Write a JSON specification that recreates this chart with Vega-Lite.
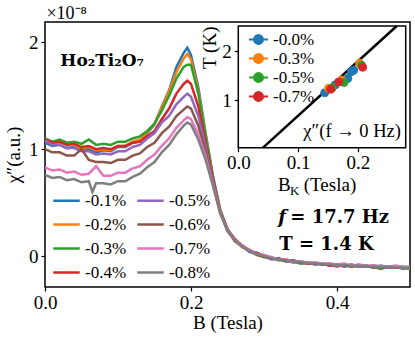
{
"$schema":"https://vega.github.io/schema/vega-lite/v6.json",
"width":365,"height":265,
"autosize":{"type":"none"},
"padding":{"left":45,"top":22,"right":5,"bottom":56},
"config":{
 "view":{"stroke":"black","strokeWidth":1.5},
 "font":"Liberation Serif",
 "axis":{"grid":false,"domain":false,"tickColor":"black","labelColor":"black","titleColor":"black","labelFont":"Liberation Serif","titleFont":"Liberation Serif","labelFontSize":19,"titleFontSize":19,"titleFontWeight":"normal","tickSize":4,"tickWidth":1.2,"labelFlush":false,"labelOverlap":false},
 "legend":{"labelFont":"Liberation Serif","labelColor":"black"}
},
"datasets":{
"main":[
{"s":"-0.1%","b":0,"v":1.06},{"s":"-0.1%","b":0.01,"v":1.03},{"s":"-0.1%","b":0.02,"v":1.04},{"s":"-0.1%","b":0.03,"v":1.01},{"s":"-0.1%","b":0.04,"v":1.02},{"s":"-0.1%","b":0.05,"v":0.99},{"s":"-0.1%","b":0.06,"v":1.0},{"s":"-0.1%","b":0.07,"v":0.97},{"s":"-0.1%","b":0.08,"v":0.99},{"s":"-0.1%","b":0.09,"v":0.98},{"s":"-0.1%","b":0.1,"v":1.02},{"s":"-0.1%","b":0.11,"v":1.02},{"s":"-0.1%","b":0.12,"v":1.06},{"s":"-0.1%","b":0.13,"v":1.07},{"s":"-0.1%","b":0.14,"v":1.15},{"s":"-0.1%","b":0.15,"v":1.23},{"s":"-0.1%","b":0.16,"v":1.4},{"s":"-0.1%","b":0.17,"v":1.55},{"s":"-0.1%","b":0.18,"v":1.77},{"s":"-0.1%","b":0.19,"v":1.9},{"s":"-0.1%","b":0.195,"v":1.95},{"s":"-0.1%","b":0.2,"v":1.88},{"s":"-0.1%","b":0.21,"v":1.58},{"s":"-0.1%","b":0.22,"v":1.15},{"s":"-0.1%","b":0.23,"v":0.75},{"s":"-0.1%","b":0.24,"v":0.43},
{"s":"-0.1%","b":0.25,"v":0.25},{"s":"-0.1%","b":0.26,"v":0.14},{"s":"-0.1%","b":0.27,"v":0.1},{"s":"-0.1%","b":0.28,"v":0.04},{"s":"-0.1%","b":0.29,"v":0.03},{"s":"-0.1%","b":0.3,"v":0.0},{"s":"-0.1%","b":0.31,"v":-0.03},{"s":"-0.1%","b":0.32,"v":-0.02},{"s":"-0.1%","b":0.33,"v":-0.05},{"s":"-0.1%","b":0.34,"v":-0.04},{"s":"-0.1%","b":0.35,"v":-0.07},{"s":"-0.1%","b":0.36,"v":-0.06},{"s":"-0.1%","b":0.37,"v":-0.08},{"s":"-0.1%","b":0.38,"v":-0.07},{"s":"-0.1%","b":0.39,"v":-0.09},{"s":"-0.1%","b":0.4,"v":-0.08},{"s":"-0.1%","b":0.41,"v":-0.1},{"s":"-0.1%","b":0.42,"v":-0.08},{"s":"-0.1%","b":0.43,"v":-0.1},{"s":"-0.1%","b":0.44,"v":-0.09},{"s":"-0.1%","b":0.45,"v":-0.11},{"s":"-0.1%","b":0.46,"v":-0.09},{"s":"-0.1%","b":0.47,"v":-0.11},{"s":"-0.1%","b":0.48,"v":-0.1},{"s":"-0.1%","b":0.49,"v":-0.12},{"s":"-0.1%","b":0.5,"v":-0.11},
{"s":"-0.2%","b":0,"v":1.08},{"s":"-0.2%","b":0.01,"v":1.06},{"s":"-0.2%","b":0.02,"v":1.06},{"s":"-0.2%","b":0.03,"v":1.05},{"s":"-0.2%","b":0.04,"v":1.04},{"s":"-0.2%","b":0.05,"v":1.01},{"s":"-0.2%","b":0.06,"v":1.02},{"s":"-0.2%","b":0.07,"v":0.99},{"s":"-0.2%","b":0.08,"v":1.0},{"s":"-0.2%","b":0.09,"v":0.99},{"s":"-0.2%","b":0.1,"v":1.03},{"s":"-0.2%","b":0.11,"v":1.03},{"s":"-0.2%","b":0.12,"v":1.07},{"s":"-0.2%","b":0.13,"v":1.09},{"s":"-0.2%","b":0.14,"v":1.16},{"s":"-0.2%","b":0.15,"v":1.24},{"s":"-0.2%","b":0.16,"v":1.39},{"s":"-0.2%","b":0.17,"v":1.54},{"s":"-0.2%","b":0.18,"v":1.72},{"s":"-0.2%","b":0.19,"v":1.85},{"s":"-0.2%","b":0.195,"v":1.89},{"s":"-0.2%","b":0.2,"v":1.84},{"s":"-0.2%","b":0.21,"v":1.55},{"s":"-0.2%","b":0.22,"v":1.13},{"s":"-0.2%","b":0.23,"v":0.74},{"s":"-0.2%","b":0.24,"v":0.43},
{"s":"-0.2%","b":0.25,"v":0.23},{"s":"-0.2%","b":0.26,"v":0.16},{"s":"-0.2%","b":0.27,"v":0.08},{"s":"-0.2%","b":0.28,"v":0.06},{"s":"-0.2%","b":0.29,"v":0.01},{"s":"-0.2%","b":0.3,"v":0.01},{"s":"-0.2%","b":0.31,"v":-0.02},{"s":"-0.2%","b":0.32,"v":-0.04},{"s":"-0.2%","b":0.33,"v":-0.03},{"s":"-0.2%","b":0.34,"v":-0.06},{"s":"-0.2%","b":0.35,"v":-0.05},{"s":"-0.2%","b":0.36,"v":-0.07},{"s":"-0.2%","b":0.37,"v":-0.06},{"s":"-0.2%","b":0.38,"v":-0.08},{"s":"-0.2%","b":0.39,"v":-0.07},{"s":"-0.2%","b":0.4,"v":-0.09},{"s":"-0.2%","b":0.41,"v":-0.08},{"s":"-0.2%","b":0.42,"v":-0.1},{"s":"-0.2%","b":0.43,"v":-0.08},{"s":"-0.2%","b":0.44,"v":-0.1},{"s":"-0.2%","b":0.45,"v":-0.09},{"s":"-0.2%","b":0.46,"v":-0.11},{"s":"-0.2%","b":0.47,"v":-0.1},{"s":"-0.2%","b":0.48,"v":-0.11},{"s":"-0.2%","b":0.49,"v":-0.1},{"s":"-0.2%","b":0.5,"v":-0.12},
{"s":"-0.3%","b":0,"v":1.1},{"s":"-0.3%","b":0.01,"v":1.07},{"s":"-0.3%","b":0.02,"v":1.09},{"s":"-0.3%","b":0.03,"v":1.06},{"s":"-0.3%","b":0.04,"v":1.07},{"s":"-0.3%","b":0.05,"v":1.05},{"s":"-0.3%","b":0.06,"v":1.09},{"s":"-0.3%","b":0.07,"v":1.04},{"s":"-0.3%","b":0.08,"v":1.05},{"s":"-0.3%","b":0.09,"v":1.04},{"s":"-0.3%","b":0.1,"v":1.07},{"s":"-0.3%","b":0.11,"v":1.07},{"s":"-0.3%","b":0.12,"v":1.1},{"s":"-0.3%","b":0.13,"v":1.12},{"s":"-0.3%","b":0.14,"v":1.17},{"s":"-0.3%","b":0.15,"v":1.24},{"s":"-0.3%","b":0.16,"v":1.36},{"s":"-0.3%","b":0.17,"v":1.5},{"s":"-0.3%","b":0.18,"v":1.66},{"s":"-0.3%","b":0.19,"v":1.77},{"s":"-0.3%","b":0.195,"v":1.79},{"s":"-0.3%","b":0.2,"v":1.79},{"s":"-0.3%","b":0.21,"v":1.52},{"s":"-0.3%","b":0.22,"v":1.12},{"s":"-0.3%","b":0.23,"v":0.74},{"s":"-0.3%","b":0.24,"v":0.42},
{"s":"-0.3%","b":0.25,"v":0.24},{"s":"-0.3%","b":0.26,"v":0.15},{"s":"-0.3%","b":0.27,"v":0.09},{"s":"-0.3%","b":0.28,"v":0.05},{"s":"-0.3%","b":0.29,"v":0.02},{"s":"-0.3%","b":0.3,"v":-0.01},{"s":"-0.3%","b":0.31,"v":-0.01},{"s":"-0.3%","b":0.32,"v":-0.04},{"s":"-0.3%","b":0.33,"v":-0.04},{"s":"-0.3%","b":0.34,"v":-0.05},{"s":"-0.3%","b":0.35,"v":-0.07},{"s":"-0.3%","b":0.36,"v":-0.06},{"s":"-0.3%","b":0.37,"v":-0.07},{"s":"-0.3%","b":0.38,"v":-0.08},{"s":"-0.3%","b":0.39,"v":-0.08},{"s":"-0.3%","b":0.4,"v":-0.1},{"s":"-0.3%","b":0.41,"v":-0.08},{"s":"-0.3%","b":0.42,"v":-0.09},{"s":"-0.3%","b":0.43,"v":-0.1},{"s":"-0.3%","b":0.44,"v":-0.09},{"s":"-0.3%","b":0.45,"v":-0.1},{"s":"-0.3%","b":0.46,"v":-0.12},{"s":"-0.3%","b":0.47,"v":-0.1},{"s":"-0.3%","b":0.48,"v":-0.1},{"s":"-0.3%","b":0.49,"v":-0.11},{"s":"-0.3%","b":0.5,"v":-0.12},
{"s":"-0.4%","b":0,"v":1.09},{"s":"-0.4%","b":0.01,"v":1.06},{"s":"-0.4%","b":0.02,"v":1.07},{"s":"-0.4%","b":0.03,"v":1.04},{"s":"-0.4%","b":0.04,"v":1.05},{"s":"-0.4%","b":0.05,"v":1.02},{"s":"-0.4%","b":0.06,"v":1.03},{"s":"-0.4%","b":0.07,"v":1.0},{"s":"-0.4%","b":0.08,"v":1.01},{"s":"-0.4%","b":0.09,"v":1.0},{"s":"-0.4%","b":0.1,"v":1.03},{"s":"-0.4%","b":0.11,"v":1.03},{"s":"-0.4%","b":0.12,"v":1.06},{"s":"-0.4%","b":0.13,"v":1.07},{"s":"-0.4%","b":0.14,"v":1.12},{"s":"-0.4%","b":0.15,"v":1.17},{"s":"-0.4%","b":0.16,"v":1.28},{"s":"-0.4%","b":0.17,"v":1.38},{"s":"-0.4%","b":0.18,"v":1.52},{"s":"-0.4%","b":0.19,"v":1.61},{"s":"-0.4%","b":0.195,"v":1.64},{"s":"-0.4%","b":0.2,"v":1.61},{"s":"-0.4%","b":0.21,"v":1.4},{"s":"-0.4%","b":0.22,"v":1.06},{"s":"-0.4%","b":0.23,"v":0.72},{"s":"-0.4%","b":0.24,"v":0.42},
{"s":"-0.4%","b":0.25,"v":0.25},{"s":"-0.4%","b":0.26,"v":0.16},{"s":"-0.4%","b":0.27,"v":0.1},{"s":"-0.4%","b":0.28,"v":0.05},{"s":"-0.4%","b":0.29,"v":0.03},{"s":"-0.4%","b":0.3,"v":0.0},{"s":"-0.4%","b":0.31,"v":-0.02},{"s":"-0.4%","b":0.32,"v":-0.03},{"s":"-0.4%","b":0.33,"v":-0.05},{"s":"-0.4%","b":0.34,"v":-0.05},{"s":"-0.4%","b":0.35,"v":-0.06},{"s":"-0.4%","b":0.36,"v":-0.07},{"s":"-0.4%","b":0.37,"v":-0.07},{"s":"-0.4%","b":0.38,"v":-0.07},{"s":"-0.4%","b":0.39,"v":-0.09},{"s":"-0.4%","b":0.4,"v":-0.08},{"s":"-0.4%","b":0.41,"v":-0.09},{"s":"-0.4%","b":0.42,"v":-0.09},{"s":"-0.4%","b":0.43,"v":-0.09},{"s":"-0.4%","b":0.44,"v":-0.1},{"s":"-0.4%","b":0.45,"v":-0.1},{"s":"-0.4%","b":0.46,"v":-0.1},{"s":"-0.4%","b":0.47,"v":-0.11},{"s":"-0.4%","b":0.48,"v":-0.1},{"s":"-0.4%","b":0.49,"v":-0.11},{"s":"-0.4%","b":0.5,"v":-0.11},
{"s":"-0.5%","b":0,"v":1.08},{"s":"-0.5%","b":0.01,"v":1.04},{"s":"-0.5%","b":0.02,"v":1.04},{"s":"-0.5%","b":0.03,"v":1.01},{"s":"-0.5%","b":0.04,"v":1.01},{"s":"-0.5%","b":0.05,"v":0.98},{"s":"-0.5%","b":0.06,"v":0.98},{"s":"-0.5%","b":0.07,"v":0.95},{"s":"-0.5%","b":0.08,"v":0.96},{"s":"-0.5%","b":0.09,"v":0.95},{"s":"-0.5%","b":0.1,"v":0.98},{"s":"-0.5%","b":0.11,"v":0.98},{"s":"-0.5%","b":0.12,"v":1.02},{"s":"-0.5%","b":0.13,"v":1.04},{"s":"-0.5%","b":0.14,"v":1.1},{"s":"-0.5%","b":0.15,"v":1.15},{"s":"-0.5%","b":0.16,"v":1.25},{"s":"-0.5%","b":0.17,"v":1.31},{"s":"-0.5%","b":0.18,"v":1.42},{"s":"-0.5%","b":0.19,"v":1.49},{"s":"-0.5%","b":0.195,"v":1.52},{"s":"-0.5%","b":0.2,"v":1.49},{"s":"-0.5%","b":0.21,"v":1.31},{"s":"-0.5%","b":0.22,"v":1.02},{"s":"-0.5%","b":0.23,"v":0.7},{"s":"-0.5%","b":0.24,"v":0.41},
{"s":"-0.5%","b":0.25,"v":0.23},{"s":"-0.5%","b":0.26,"v":0.15},{"s":"-0.5%","b":0.27,"v":0.09},{"s":"-0.5%","b":0.28,"v":0.04},{"s":"-0.5%","b":0.29,"v":0.02},{"s":"-0.5%","b":0.3,"v":0.0},{"s":"-0.5%","b":0.31,"v":-0.03},{"s":"-0.5%","b":0.32,"v":-0.03},{"s":"-0.5%","b":0.33,"v":-0.04},{"s":"-0.5%","b":0.34,"v":-0.06},{"s":"-0.5%","b":0.35,"v":-0.06},{"s":"-0.5%","b":0.36,"v":-0.06},{"s":"-0.5%","b":0.37,"v":-0.08},{"s":"-0.5%","b":0.38,"v":-0.07},{"s":"-0.5%","b":0.39,"v":-0.08},{"s":"-0.5%","b":0.4,"v":-0.09},{"s":"-0.5%","b":0.41,"v":-0.09},{"s":"-0.5%","b":0.42,"v":-0.08},{"s":"-0.5%","b":0.43,"v":-0.1},{"s":"-0.5%","b":0.44,"v":-0.1},{"s":"-0.5%","b":0.45,"v":-0.09},{"s":"-0.5%","b":0.46,"v":-0.1},{"s":"-0.5%","b":0.47,"v":-0.11},{"s":"-0.5%","b":0.48,"v":-0.11},{"s":"-0.5%","b":0.49,"v":-0.1},{"s":"-0.5%","b":0.5,"v":-0.11},
{"s":"-0.6%","b":0,"v":1.0},{"s":"-0.6%","b":0.01,"v":0.97},{"s":"-0.6%","b":0.02,"v":0.97},{"s":"-0.6%","b":0.03,"v":0.94},{"s":"-0.6%","b":0.04,"v":0.94},{"s":"-0.6%","b":0.05,"v":1.0},{"s":"-0.6%","b":0.06,"v":0.9},{"s":"-0.6%","b":0.07,"v":0.88},{"s":"-0.6%","b":0.08,"v":0.88},{"s":"-0.6%","b":0.09,"v":0.87},{"s":"-0.6%","b":0.1,"v":0.9},{"s":"-0.6%","b":0.11,"v":0.9},{"s":"-0.6%","b":0.12,"v":0.94},{"s":"-0.6%","b":0.13,"v":0.96},{"s":"-0.6%","b":0.14,"v":1.02},{"s":"-0.6%","b":0.15,"v":1.06},{"s":"-0.6%","b":0.16,"v":1.15},{"s":"-0.6%","b":0.17,"v":1.21},{"s":"-0.6%","b":0.18,"v":1.31},{"s":"-0.6%","b":0.19,"v":1.37},{"s":"-0.6%","b":0.195,"v":1.4},{"s":"-0.6%","b":0.2,"v":1.38},{"s":"-0.6%","b":0.21,"v":1.22},{"s":"-0.6%","b":0.22,"v":0.97},{"s":"-0.6%","b":0.23,"v":0.68},{"s":"-0.6%","b":0.24,"v":0.41},
{"s":"-0.6%","b":0.25,"v":0.24},{"s":"-0.6%","b":0.26,"v":0.14},{"s":"-0.6%","b":0.27,"v":0.09},{"s":"-0.6%","b":0.28,"v":0.05},{"s":"-0.6%","b":0.29,"v":0.01},{"s":"-0.6%","b":0.3,"v":-0.01},{"s":"-0.6%","b":0.31,"v":-0.02},{"s":"-0.6%","b":0.32,"v":-0.03},{"s":"-0.6%","b":0.33,"v":-0.04},{"s":"-0.6%","b":0.34,"v":-0.04},{"s":"-0.6%","b":0.35,"v":-0.06},{"s":"-0.6%","b":0.36,"v":-0.07},{"s":"-0.6%","b":0.37,"v":-0.07},{"s":"-0.6%","b":0.38,"v":-0.08},{"s":"-0.6%","b":0.39,"v":-0.08},{"s":"-0.6%","b":0.4,"v":-0.08},{"s":"-0.6%","b":0.41,"v":-0.09},{"s":"-0.6%","b":0.42,"v":-0.1},{"s":"-0.6%","b":0.43,"v":-0.09},{"s":"-0.6%","b":0.44,"v":-0.09},{"s":"-0.6%","b":0.45,"v":-0.11},{"s":"-0.6%","b":0.46,"v":-0.1},{"s":"-0.6%","b":0.47,"v":-0.1},{"s":"-0.6%","b":0.48,"v":-0.11},{"s":"-0.6%","b":0.49,"v":-0.11},{"s":"-0.6%","b":0.5,"v":-0.1},
{"s":"-0.7%","b":0,"v":0.83},{"s":"-0.7%","b":0.01,"v":0.8},{"s":"-0.7%","b":0.02,"v":0.81},{"s":"-0.7%","b":0.03,"v":0.78},{"s":"-0.7%","b":0.04,"v":0.79},{"s":"-0.7%","b":0.05,"v":0.76},{"s":"-0.7%","b":0.06,"v":0.77},{"s":"-0.7%","b":0.07,"v":0.84},{"s":"-0.7%","b":0.08,"v":0.75},{"s":"-0.7%","b":0.09,"v":0.75},{"s":"-0.7%","b":0.1,"v":0.78},{"s":"-0.7%","b":0.11,"v":0.78},{"s":"-0.7%","b":0.12,"v":0.82},{"s":"-0.7%","b":0.13,"v":0.84},{"s":"-0.7%","b":0.14,"v":0.9},{"s":"-0.7%","b":0.15,"v":0.95},{"s":"-0.7%","b":0.16,"v":1.03},{"s":"-0.7%","b":0.17,"v":1.1},{"s":"-0.7%","b":0.18,"v":1.2},{"s":"-0.7%","b":0.19,"v":1.27},{"s":"-0.7%","b":0.195,"v":1.3},{"s":"-0.7%","b":0.2,"v":1.28},{"s":"-0.7%","b":0.21,"v":1.14},{"s":"-0.7%","b":0.22,"v":0.93},{"s":"-0.7%","b":0.23,"v":0.67},{"s":"-0.7%","b":0.24,"v":0.4},
{"s":"-0.7%","b":0.25,"v":0.24},{"s":"-0.7%","b":0.26,"v":0.15},{"s":"-0.7%","b":0.27,"v":0.1},{"s":"-0.7%","b":0.28,"v":0.06},{"s":"-0.7%","b":0.29,"v":0.02},{"s":"-0.7%","b":0.3,"v":0.01},{"s":"-0.7%","b":0.31,"v":-0.01},{"s":"-0.7%","b":0.32,"v":-0.03},{"s":"-0.7%","b":0.33,"v":-0.03},{"s":"-0.7%","b":0.34,"v":-0.05},{"s":"-0.7%","b":0.35,"v":-0.05},{"s":"-0.7%","b":0.36,"v":-0.06},{"s":"-0.7%","b":0.37,"v":-0.06},{"s":"-0.7%","b":0.38,"v":-0.07},{"s":"-0.7%","b":0.39,"v":-0.07},{"s":"-0.7%","b":0.4,"v":-0.08},{"s":"-0.7%","b":0.41,"v":-0.07},{"s":"-0.7%","b":0.42,"v":-0.09},{"s":"-0.7%","b":0.43,"v":-0.08},{"s":"-0.7%","b":0.44,"v":-0.09},{"s":"-0.7%","b":0.45,"v":-0.09},{"s":"-0.7%","b":0.46,"v":-0.09},{"s":"-0.7%","b":0.47,"v":-0.1},{"s":"-0.7%","b":0.48,"v":-0.09},{"s":"-0.7%","b":0.49,"v":-0.1},{"s":"-0.7%","b":0.5,"v":-0.1},
{"s":"-0.8%","b":0,"v":0.76},{"s":"-0.8%","b":0.01,"v":0.73},{"s":"-0.8%","b":0.02,"v":0.74},{"s":"-0.8%","b":0.03,"v":0.71},{"s":"-0.8%","b":0.04,"v":0.72},{"s":"-0.8%","b":0.05,"v":0.69},{"s":"-0.8%","b":0.06,"v":0.7},{"s":"-0.8%","b":0.065,"v":0.6},{"s":"-0.8%","b":0.07,"v":0.68},{"s":"-0.8%","b":0.08,"v":0.68},{"s":"-0.8%","b":0.09,"v":0.67},{"s":"-0.8%","b":0.1,"v":0.7},{"s":"-0.8%","b":0.11,"v":0.7},{"s":"-0.8%","b":0.12,"v":0.74},{"s":"-0.8%","b":0.13,"v":0.77},{"s":"-0.8%","b":0.14,"v":0.83},{"s":"-0.8%","b":0.15,"v":0.88},{"s":"-0.8%","b":0.16,"v":0.97},{"s":"-0.8%","b":0.17,"v":1.04},{"s":"-0.8%","b":0.18,"v":1.14},{"s":"-0.8%","b":0.19,"v":1.22},{"s":"-0.8%","b":0.195,"v":1.25},{"s":"-0.8%","b":0.2,"v":1.23},{"s":"-0.8%","b":0.21,"v":1.09},{"s":"-0.8%","b":0.22,"v":0.9},{"s":"-0.8%","b":0.23,"v":0.66},{"s":"-0.8%","b":0.24,"v":0.4},
{"s":"-0.8%","b":0.25,"v":0.24},{"s":"-0.8%","b":0.26,"v":0.15},{"s":"-0.8%","b":0.27,"v":0.09},{"s":"-0.8%","b":0.28,"v":0.05},{"s":"-0.8%","b":0.29,"v":0.02},{"s":"-0.8%","b":0.3,"v":0.0},{"s":"-0.8%","b":0.31,"v":-0.02},{"s":"-0.8%","b":0.32,"v":-0.03},{"s":"-0.8%","b":0.33,"v":-0.04},{"s":"-0.8%","b":0.34,"v":-0.05},{"s":"-0.8%","b":0.35,"v":-0.055},{"s":"-0.8%","b":0.36,"v":-0.065},{"s":"-0.8%","b":0.37,"v":-0.07},{"s":"-0.8%","b":0.38,"v":-0.075},{"s":"-0.8%","b":0.39,"v":-0.08},{"s":"-0.8%","b":0.4,"v":-0.085},{"s":"-0.8%","b":0.41,"v":-0.085},{"s":"-0.8%","b":0.42,"v":-0.09},{"s":"-0.8%","b":0.43,"v":-0.09},{"s":"-0.8%","b":0.44,"v":-0.095},{"s":"-0.8%","b":0.45,"v":-0.1},{"s":"-0.8%","b":0.46,"v":-0.1},{"s":"-0.8%","b":0.47,"v":-0.1},{"s":"-0.8%","b":0.48,"v":-0.105},{"s":"-0.8%","b":0.49,"v":-0.11},{"s":"-0.8%","b":0.5,"v":-0.11}
],
"pts":[
{"s":"-0.0%","b":0.1445,"t":1.15},{"s":"-0.0%","b":0.162,"t":1.31},{"s":"-0.0%","b":0.183,"t":1.44},{"s":"-0.0%","b":0.189,"t":1.58},{"s":"-0.0%","b":0.193,"t":1.61},
{"s":"-0.3%","b":0.151,"t":1.24},{"s":"-0.3%","b":0.173,"t":1.41},{"s":"-0.3%","b":0.203,"t":1.75},
{"s":"-0.5%","b":0.157,"t":1.25},{"s":"-0.5%","b":0.177,"t":1.36},{"s":"-0.5%","b":0.206,"t":1.71},
{"s":"-0.7%","b":0.1545,"t":1.22},{"s":"-0.7%","b":0.168,"t":1.37},{"s":"-0.7%","b":0.208,"t":1.67}
],
"fit":[{"b":0.0414,"t":0.03},{"b":0.265,"t":2.51}],
"one":[{}]
},
"layer":[
{
 "layer":[
  {"data":{"name":"main"},
   "mark":{"type":"line","strokeWidth":2.5,"clip":true},
   "encoding":{
    "x":{"field":"b","type":"quantitative","scale":{"domain":[0,0.5],"nice":false,"zero":false},
         "axis":{"values":[0,0.2,0.4],"format":".1f","title":"B (Tesla)","labelPadding":2,"titlePadding":1}},
    "y":{"field":"v","type":"quantitative","scale":{"domain":[-0.29,2.19],"nice":false,"zero":false},
         "axis":{"values":[0,1,2],"format":"d","title":"χ″(a.u.)","labelPadding":3,"titlePadding":5}},
    "color":{"field":"s","type":"nominal",
      "scale":{"domain":["-0.1%","-0.2%","-0.3%","-0.4%","-0.5%","-0.6%","-0.7%","-0.8%"],
               "range":["#1f77b4","#ff7f0e","#2ca02c","#d62728","#9467bd","#8c564b","#e377c2","#7f7f7f"]},
      "legend":{"orient":"none","legendX":7,"legendY":164,"columns":2,"title":null,"padding":0,
                "symbolType":"stroke","symbolSize":700,"symbolStrokeWidth":2.5,"labelFontSize":17,
                "columnPadding":5,"rowPadding":1,"labelOffset":4}}
   }},
  {"data":{"name":"one"},
   "mark":{"type":"text","text":"Ho₂Ti₂O₇","font":"DejaVu Serif","fontWeight":"bold","fontSize":17,"align":"left","baseline":"alphabetic"},
   "encoding":{"x":{"datum":0.021,"type":"quantitative"},"y":{"datum":1.78,"type":"quantitative"}}},
  {"data":{"name":"one"},
   "mark":{"type":"text","text":"f","font":"DejaVu Serif","fontWeight":"bold","fontStyle":"italic","fontSize":18,"align":"left","baseline":"alphabetic"},
   "encoding":{"x":{"datum":0.3196,"type":"quantitative"},"y":{"datum":0.31,"type":"quantitative"}}},
  {"data":{"name":"one"},
   "mark":{"type":"text","text":"= 17.7 Hz","font":"DejaVu Serif","fontWeight":"bold","fontSize":18,"align":"left","baseline":"alphabetic"},
   "encoding":{"x":{"datum":0.336,"type":"quantitative"},"y":{"datum":0.31,"type":"quantitative"}}},
  {"data":{"name":"one"},
   "mark":{"type":"text","text":"T = 1.4 K","font":"DejaVu Serif","fontWeight":"bold","fontSize":18,"align":"left","baseline":"alphabetic"},
   "encoding":{"x":{"datum":0.321,"type":"quantitative"},"y":{"datum":0.056,"type":"quantitative"}}},
  {"data":{"name":"one"},
   "mark":{"type":"text","text":"×10⁻⁸","fontSize":18,"align":"left","baseline":"alphabetic"},
   "encoding":{"x":{"datum":0.002,"type":"quantitative"},"y":{"datum":2.22,"type":"quantitative"}}}
 ]
},
{
 "layer":[
  {"data":{"name":"one"},
   "mark":{"type":"rect","fill":"white","stroke":"black","strokeWidth":1.5},
   "encoding":{"x":{"datum":0,"type":"quantitative","scale":{"domain":[0,0.28],"range":[193.3,360.7],"nice":false,"zero":false}},
               "x2":{"datum":0.28},
               "y":{"datum":0.03,"type":"quantitative","scale":{"domain":[0.03,2.51],"range":[125.7,4],"nice":false,"zero":false}},
               "y2":{"datum":2.51}}},
  {"data":{"name":"fit"},
   "mark":{"type":"line","color":"black","strokeWidth":2.5},
   "encoding":{"x":{"field":"b","type":"quantitative"},"y":{"field":"t","type":"quantitative"}}},
  {"data":{"name":"pts"},
   "mark":{"type":"point","filled":true,"shape":"circle","size":64,"opacity":1,"strokeWidth":1},
   "encoding":{
    "x":{"field":"b","type":"quantitative","scale":{"domain":[0,0.28],"range":[193.3,360.7],"nice":false,"zero":false},
         "axis":{"orient":"bottom","offset":-139.3,"values":[0,0.1,0.2],"format":".1f","title":null,"labelPadding":2}},
    "y":{"field":"t","type":"quantitative","scale":{"domain":[0.03,2.51],"range":[125.7,4],"nice":false,"zero":false},
         "axis":{"orient":"left","offset":-193.3,"values":[1,2],"format":"d","title":"T (K)","titleAnchor":"end","labelPadding":3,"titlePadding":2}},
    "fill":{"field":"s","type":"nominal","scale":{"domain":["-0.0%","-0.3%","-0.5%","-0.7%"],"range":["#1f77b4","#ff7f0e","#2ca02c","#d62728"]},
      "legend":{"orient":"none","legendX":203,"legendY":7,"title":null,"padding":0,
                "symbolType":"M-1,0L1,0M-0.47,0A0.47,0.47,0,1,1,0.47,0A0.47,0.47,0,1,1,-0.47,0Z","symbolSize":361,"symbolStrokeWidth":2,
                "labelFontSize":17,"rowPadding":-1,"labelOffset":4}},
    "stroke":{"field":"s","type":"nominal","scale":{"domain":["-0.0%","-0.3%","-0.5%","-0.7%"],"range":["#1f77b4","#ff7f0e","#2ca02c","#d62728"]},
      "legend":{"orient":"none","legendX":203,"legendY":7,"title":null,"padding":0,
                "symbolType":"M-1,0L1,0M-0.47,0A0.47,0.47,0,1,1,0.47,0A0.47,0.47,0,1,1,-0.47,0Z","symbolSize":361,"symbolStrokeWidth":2,
                "labelFontSize":17,"rowPadding":-1,"labelOffset":4}}
   }},
  {"data":{"name":"one"},
   "mark":{"type":"text","text":"χ″(f → 0 Hz)","fontSize":18.5,"align":"right","baseline":"alphabetic"},
   "encoding":{"x":{"datum":0.272,"type":"quantitative"},"y":{"datum":0.25,"type":"quantitative"}}},
  {"data":{"name":"one"},
   "mark":{"type":"text","text":"B","fontSize":19,"align":"left","baseline":"alphabetic"},
   "encoding":{"x":{"datum":0.0662,"type":"quantitative"},"y":{"datum":-0.851,"type":"quantitative"}}},
  {"data":{"name":"one"},
   "mark":{"type":"text","text":"K","fontSize":13,"align":"left","baseline":"alphabetic"},
   "encoding":{"x":{"datum":0.0865,"type":"quantitative"},"y":{"datum":-0.93,"type":"quantitative"}}},
  {"data":{"name":"one"},
   "mark":{"type":"text","text":"(Tesla)","fontSize":19,"align":"left","baseline":"alphabetic"},
   "encoding":{"x":{"datum":0.1095,"type":"quantitative"},"y":{"datum":-0.851,"type":"quantitative"}}}
 ]
}
],
"resolve":{"scale":{"x":"independent","y":"independent","color":"independent","fill":"independent","stroke":"independent"},
           "axis":{"x":"independent","y":"independent"},
           "legend":{"color":"independent","fill":"independent","stroke":"independent"}}
}
